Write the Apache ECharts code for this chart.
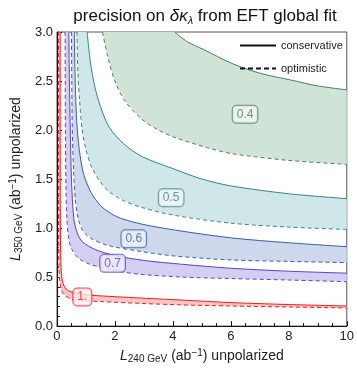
<!DOCTYPE html>
<html>
<head>
<meta charset="utf-8">
<script src="https://cdn.jsdelivr.net/npm/echarts@6/dist/echarts.min.js"></script>
<style>
  html, body { margin: 0; padding: 0; background: #fff; }
  #chart { width: 357px; height: 369px; }
</style>
</head>
<body>
<div id="chart"></div>
<script>
// precision on delta kappa_lambda: [L240, L350] points per contour
var redCons = [[0.11, 3], [0.112, 1.5], [0.12, 0.9], [0.14, 0.6], [0.18, 0.47], [0.26, 0.40], [0.4, 0.36], [0.65, 0.335], [1.2, 0.315], [2, 0.30], [3, 0.285], [4.34, 0.265], [6, 0.24], [8, 0.22], [10, 0.205]]
var redOpt = [[0.05, 3], [0.051, 1.5], [0.055, 0.9], [0.07, 0.6], [0.1, 0.45], [0.15, 0.37], [0.25, 0.32], [0.45, 0.28], [0.8, 0.26], [1.5, 0.25], [3, 0.23], [4.34, 0.216], [6, 0.205], [8, 0.195], [10, 0.185]]
var purpleCons = [[0.41, 3], [0.43, 2.5], [0.46, 2], [0.5, 1.5], [0.58, 1.1], [0.7, 0.95], [0.88, 0.86], [1.33, 0.78], [2, 0.72], [3, 0.67], [4.34, 0.63], [6, 0.59], [8, 0.56], [10, 0.54]]
var purpleOpt = [[0.28, 3], [0.285, 2.5], [0.29, 2], [0.31, 1.4], [0.34, 1.1], [0.4, 0.9], [0.5, 0.79], [0.75, 0.69], [1.1, 0.635], [1.5, 0.6], [2.3, 0.55], [3, 0.525], [4.34, 0.5], [6, 0.485], [8, 0.47], [10, 0.453]]
var blueCons = [[0.6, 3], [0.63, 2.5], [0.68, 2.1], [0.77, 1.8], [0.92, 1.55], [1.18, 1.36], [1.5, 1.23], [1.8, 1.16], [2.2, 1.1], [2.93, 1.04], [4.06, 0.98], [6, 0.9], [8, 0.85], [10, 0.81]]
var blueOpt = [[0.5, 3], [0.51, 2.5], [0.53, 2], [0.57, 1.6], [0.63, 1.3], [0.73, 1.1], [0.9, 0.97], [1.2, 0.89], [1.8, 0.82], [2.93, 0.76], [4.06, 0.715], [6, 0.675], [8, 0.66], [10, 0.648]]
var tealCons = [[1.04, 3], [1.15, 2.7], [1.3, 2.45], [1.5, 2.24], [1.8, 2.03], [2.3, 1.86], [2.93, 1.73], [4.06, 1.6], [5, 1.5], [6, 1.43], [8, 1.35], [10, 1.3]]
var tealOpt = [[0.69, 3], [0.72, 2.6], [0.78, 2.3], [0.87, 2.0], [1.0, 1.8], [1.2, 1.62], [1.5, 1.47], [1.8, 1.37], [2.3, 1.28], [2.93, 1.21], [4.06, 1.13], [6, 1.05], [8, 1.01], [10, 0.986]]
var greenCons = [[4.06, 3], [4.5, 2.9], [5.07, 2.82], [6.03, 2.68], [7, 2.58], [8.07, 2.51], [9, 2.45], [10, 2.41]]
var greenOpt = [[1.57, 3], [1.75, 2.75], [2.0, 2.5], [2.36, 2.29], [2.93, 2.11], [3.5, 2.0], [4.06, 1.925], [5.19, 1.82], [6.03, 1.76], [8, 1.69], [10, 1.65]]

var levelNames = ['1.', '0.7', '0.6', '0.5', '0.4']
var labelAt = [[0.875, 0.297], [1.92, 0.64], [2.65, 0.89], [3.94, 1.31], [6.49, 2.16]]
var xTicks = [0, 2, 4, 6, 8, 10]
var yTicks = [0, 0.5, 1, 1.5, 2, 2.5, 3]

var levels = [
  { cons: redCons, opt: redOpt, line: '#f01c1c', fill: '#fcc4c4', box: '#fff0f0' },
  { cons: purpleCons, opt: purpleOpt, line: '#5a44c6', fill: '#d4cef2', box: '#f0eefb' },
  { cons: blueCons, opt: blueOpt, line: '#3d5ea6', fill: '#cdd8ec', box: '#eef2f9' },
  { cons: tealCons, opt: tealOpt, line: '#3a8488', fill: '#cfe7e9', box: '#f0f8f8' },
  { cons: greenCons, opt: greenOpt, line: '#4d7c62', fill: '#d0e3d7', box: '#f2f7f3' }
]

var font = 'Liberation Sans, Arial, sans-serif'
var chart = echarts.init(document.getElementById('chart'), null, { renderer: 'canvas' })

var series = []
// filled band between conservative and optimistic curve
levels.forEach(function(lv) {
  var poly = lv.cons.concat(lv.opt.slice().reverse())
  series.push({
    type: 'custom',
    silent: true,
    z: 1,
    data: poly,
    renderItem: function(params, api) {
      if (params.dataIndex !== 0) return
      return {
        type: 'polygon',
        shape: { points: poly.map(function(p) { return api.coord(p) }) },
        style: { fill: lv.fill }
      }
    }
  })
})
levels.forEach(function(lv) {
  series.push({
    type: 'line', data: lv.cons, symbol: 'none', smooth: 0.3, z: 3, silent: true,
    lineStyle: { color: lv.line, width: 1 }
  })
  series.push({
    type: 'line', data: lv.opt, symbol: 'none', smooth: 0.3, z: 3, silent: true,
    lineStyle: { color: lv.line, width: 1, type: [4, 3] }
  })
})
// contour labels
series.push({
  type: 'scatter',
  symbolSize: 0,
  z: 5,
  silent: true,
  data: labelAt.map(function(p, i) {
    var lv = levels[i]
    return {
      value: p,
      label: {
        show: true, position: 'inside', formatter: levelNames[i],
        color: lv.line, fontSize: 12, fontFamily: font,
        backgroundColor: lv.box, borderColor: lv.line, borderWidth: 1,
        borderRadius: 4, padding: [3, 4, 2, 4]
      }
    }
  })
})
// legend entries
series.push({ name: 'conservative', type: 'line', data: [], symbol: 'none', symbolSize: 0, itemStyle: { color: '#111' }, lineStyle: { color: '#111', width: 1.3 } })
series.push({ name: 'optimistic', type: 'line', data: [], symbol: 'none', symbolSize: 0, itemStyle: { color: '#111' }, lineStyle: { color: '#111', width: 1.3, type: [5, 3] } })

chart.setOption({
  animation: false,
  title: {
    text: 'precision on {i|δκ}{s|λ} from EFT global fit',
    left: 200, top: 2, textAlign: 'center',
    textStyle: {
      fontSize: 17, fontWeight: 'normal', color: '#111', fontFamily: font,
      rich: {
        i: { fontSize: 17, fontStyle: 'italic', fontFamily: font, color: '#111' },
        s: { fontSize: 11, fontStyle: 'italic', fontFamily: font, color: '#111', padding: [8, 0, 0, 0] }
      }
    }
  },
  legend: {
    left: 234, top: 35, orient: 'vertical',
    itemWidth: 36, itemHeight: 10, itemGap: 12,
    data: ['conservative', 'optimistic'],
    itemStyle: { opacity: 0 },
    textStyle: { fontSize: 11, color: '#222', fontFamily: font }
  },
  grid: { left: 52, right: 10, top: 32, bottom: 41, show: true, borderColor: '#555', borderWidth: 1 },
  xAxis: {
    type: 'value', min: xTicks[0], max: xTicks[xTicks.length - 1], interval: 2,
    name: '{i|L}{s|240 GeV} (ab{p|−1}) unpolarized',
    nameLocation: 'middle', nameGap: 21,
    nameTextStyle: {
      fontSize: 14, color: '#222', fontFamily: font,
      rich: {
        i: { fontSize: 14, fontStyle: 'italic', fontFamily: font, color: '#222' },
        s: { fontSize: 10, fontFamily: font, color: '#222', padding: [6, 0, 0, 0] },
        p: { fontSize: 10, fontFamily: font, color: '#222', padding: [0, 0, 6, 0] }
      }
    },
    axisLine: { lineStyle: { color: '#111', width: 1 } },
    axisTick: { inside: true, length: 5, lineStyle: { color: '#111' } },
    minorTick: { show: true, splitNumber: 4, length: 3, lineStyle: { color: '#111' } },
    splitLine: { show: false },
    axisLabel: { fontSize: 13, color: '#222', fontFamily: font, margin: 4 }
  },
  yAxis: {
    type: 'value', min: yTicks[0], max: yTicks[yTicks.length - 1], interval: 0.5,
    name: '{i|L}{s|350 GeV} (ab{p|−1}) unpolarized',
    nameLocation: 'middle', nameGap: 31, nameRotate: 90,
    nameTextStyle: {
      fontSize: 14, color: '#222', fontFamily: font,
      rich: {
        i: { fontSize: 14, fontStyle: 'italic', fontFamily: font, color: '#222' },
        s: { fontSize: 10, fontFamily: font, color: '#222', padding: [6, 0, 0, 0] },
        p: { fontSize: 10, fontFamily: font, color: '#222', padding: [0, 0, 6, 0] }
      }
    },
    axisLine: { lineStyle: { color: '#111', width: 1 } },
    axisTick: { inside: true, length: 5, lineStyle: { color: '#111' } },
    minorTick: { show: true, splitNumber: 5, length: 3, lineStyle: { color: '#111' } },
    splitLine: { show: false },
    axisLabel: { fontSize: 13, color: '#222', fontFamily: font, margin: 4, formatter: function(v) { return v.toFixed(1) } }
  },
  series: series
})
</script>
</body>
</html>
